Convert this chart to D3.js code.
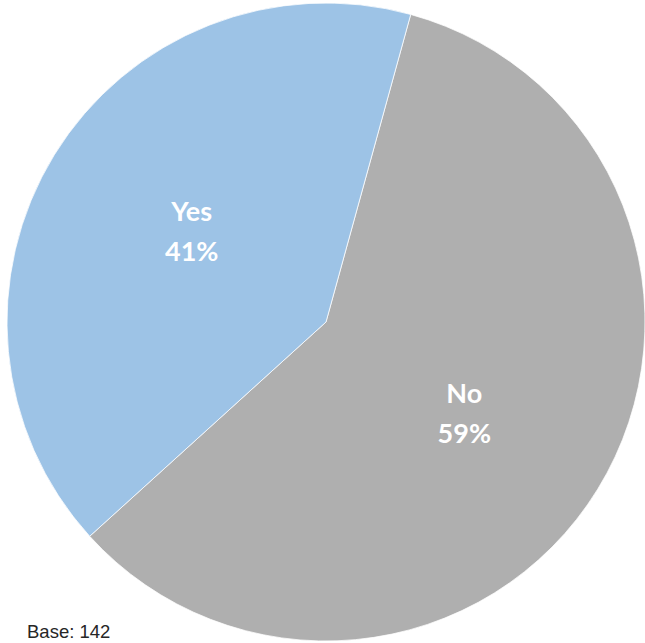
<!DOCTYPE html>
<html>
<head>
<meta charset="utf-8">
<script src="https://cdn.jsdelivr.net/npm/d3@7"></script>
<style>
  html, body { margin: 0; padding: 0; background: #ffffff; }
  svg { display: block; }
</style>
</head>
<body>
<svg id="chart" width="645" height="643"></svg>
<script>
// Survey answers and their shares (percent)
const categories = ["No", "Yes"];
const values = [59, 41];
const colors = ["#AFAFAF", "#9DC3E6"];
const baseNote = "Base: 142";

const width = 645, height = 643;
const cx = 326, cy = 322, radius = 319;
// first slice begins a little clockwise of twelve o'clock
const startDeg = 15.4;

const svg = d3.select("#chart");
const g = svg.append("g").attr("transform", `translate(${cx},${cy})`);

const data = categories.map((c, i) => ({ name: c, value: values[i], color: colors[i] }));

const pie = d3.pie()
  .sort(null)
  .value(d => d.value)
  .startAngle(startDeg * Math.PI / 180)
  .endAngle(startDeg * Math.PI / 180 + 2 * Math.PI);

const arc = d3.arc().innerRadius(0).outerRadius(radius);
const labelArc = d3.arc().innerRadius(160).outerRadius(160);

const arcs = pie(data);

g.selectAll("path.slice")
  .data(arcs)
  .join("path")
  .attr("class", "slice")
  .attr("d", arc)
  .attr("fill", d => d.data.color)
  .attr("stroke", "#ffffff")
  .attr("stroke-width", 0.75);

const labels = g.selectAll("text.lbl")
  .data(arcs)
  .join("text")
  .attr("class", "lbl")
  .attr("text-anchor", "middle")
  .attr("fill", "#ffffff")
  .style("font-family", "Lato, 'Open Sans', sans-serif")
  .style("font-weight", "bold")
  .style("font-size", "27px")
  .attr("transform", d => {
    const [x, y] = labelArc.centroid(d);
    // labels sit slightly further out vertically than horizontally
    return `translate(${x + 2},${y * 1.09})`;
  });

labels.append("tspan")
  .attr("x", 0)
  .attr("y", -10)
  .text(d => d.data.name);

labels.append("tspan")
  .attr("x", 0)
  .attr("y", 30)
  .text(d => d3.format(".0f")(d.data.value) + "%");

svg.append("text")
  .attr("x", 27)
  .attr("y", 638)
  .attr("fill", "#262626")
  .style("font-family", "Arial, 'Liberation Sans', sans-serif")
  .style("font-size", "18.5px")
  .text(baseNote);
</script>
</body>
</html>
